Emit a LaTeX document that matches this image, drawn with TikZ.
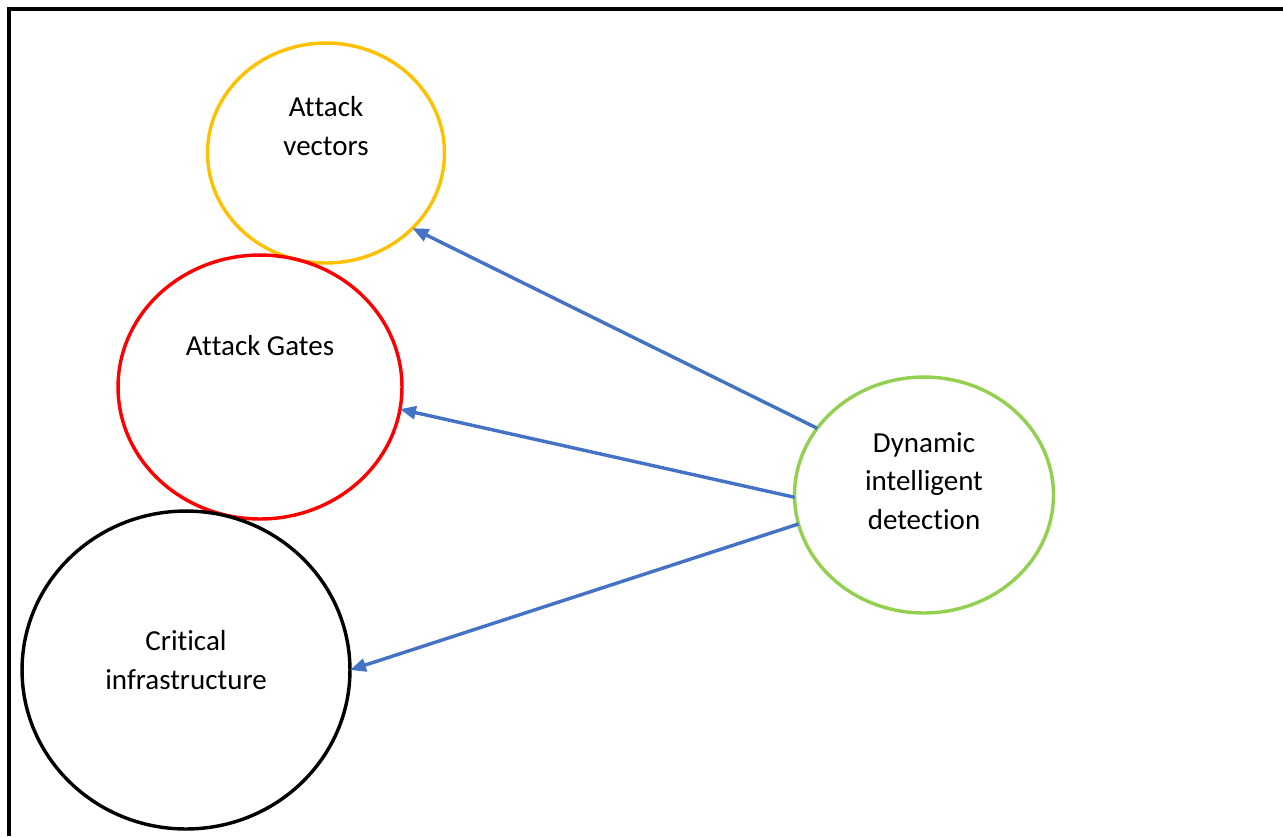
\documentclass[tikz,border=0pt]{standalone}
\usepackage{fontspec}
\setmainfont[Ligatures={NoCommon,NoRare}]{Carlito}
\usepackage{xcolor}
\definecolor{vecorange}{HTML}{FFC000}
\definecolor{gatered}{HTML}{FF0000}
\definecolor{detgreen}{HTML}{92D050}
\definecolor{pathblue}{HTML}{4472C4}
\usetikzlibrary{arrows.meta}
\usetikzlibrary{shapes.geometric}
% break the tt / ti ligatures
\newcommand{\nolig}{\kern0pt}

\begin{document}
\begin{tikzpicture}[x=0.02cm, y=-0.02cm,
  blob/.style={ellipse, line width=1.95pt, inner sep=0pt, outer sep=0pt},
  words/.style={align=center, font=\fontsize{16.5}{22}\selectfont},
  paths/.style={-{Triangle[length=0.32cm,width=0.26cm]}, line width=1.95pt, pathblue}]

 \useasboundingbox (0,0) rectangle (1283,836);

 \draw [line width=2.5pt] (9,836) -- (9,9) -- (1283,9);


 \node [blob, draw=vecorange, minimum width=4.74cm, minimum height=4.4cm] (vectors) at (326,153) {};
 \node [words] (vectors_text) at (326,126) {At\nolig tack\\vectors};

 \node [blob, draw=gatered, minimum width=5.68cm, minimum height=5.28cm] (gates) at (260,387) {};
 \node [words] (gates_text) at (260,346) {At\nolig tack Gates};

 \node [blob, draw=black, minimum width=6.56cm, minimum height=6.36cm] (critical) at (186,670) {};
 \node [words] (critical_text) at (186,660) {Crit\nolig ical\\infrastructure};

 \node [blob, draw=detgreen, minimum width=5.18cm, minimum height=4.72cm] (detection) at (924,495) {};
 \node [words] (detection_text) at (924,481) {Dynamic\\intelligent\\detect\nolig ion};



 \draw [paths] (detection.148.6) -- (vectors.-41.5);
 \draw [paths] (detection.181.3) -- (gates.-9.5);
 \draw [paths] (detection.193.9) -- (critical.0);


\end{tikzpicture}
\end{document}
